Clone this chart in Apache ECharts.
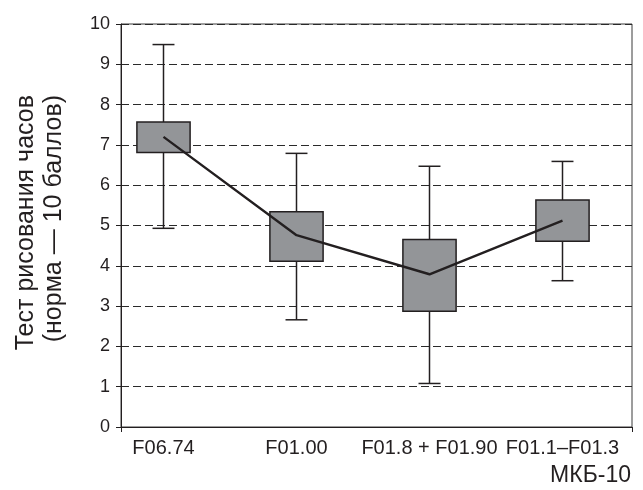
<!DOCTYPE html>
<html>
<head>
<meta charset="utf-8">
<script src="https://cdn.jsdelivr.net/npm/echarts@6/dist/echarts.min.js"></script>
<style>html,body{margin:0;padding:0;background:#fff;}#chart{width:643px;height:490px;}</style>
</head>
<body>
<div id="chart"></div>
<script>
var categories = ['F06.74', 'F01.00', 'F01.8 + F01.90', 'F01.1–F01.3'];
var whiskerLow = [4.93, 2.66, 1.08, 3.63];
var q1 = [6.81, 4.11, 2.87, 4.61];
var q3 = [7.57, 5.34, 4.65, 5.63];
var whiskerHigh = [9.49, 6.79, 6.47, 6.59];
var means = [7.20, 4.76, 3.79, 5.12];
var yTicks = [0, 1, 2, 3, 4, 5, 6, 7, 8, 9, 10];

var ink = '#231f20';
var chart = echarts.init(document.getElementById('chart'), null, {renderer: 'canvas'});

var boxData = categories.map(function (c, i) {
  return [i, whiskerLow[i], q1[i], q3[i], whiskerHigh[i]];
});

var option = {
  animation: false,
  backgroundColor: '#fff',
  grid: [
    {left: 121, right: 11, top: 24, bottom: 63, show: true, borderColor: '#3a3a3a', borderWidth: 1, containLabel: false},
    {left: 97, right: 14, top: 24, bottom: 63, containLabel: false}
  ],
  xAxis: [
    {
      gridIndex: 0, type: 'category', data: [''], boundaryGap: true,
      axisLine: {show: true, lineStyle: {color: ink, width: 1}},
      axisTick: {show: true, length: 5, lineStyle: {color: ink}},
      axisLabel: {show: false}
    },
    {
      gridIndex: 1, type: 'category', data: categories, boundaryGap: true,
      axisLine: {show: false}, axisTick: {show: false},
      axisLabel: {show: true, color: ink, fontFamily: 'Liberation Sans', fontSize: 20, margin: 11, interval: 0}
    }
  ],
  yAxis: [
    {
      gridIndex: 0, type: 'value', min: 0, max: 10, interval: 1,
      axisLine: {show: true, lineStyle: {color: ink, width: 1}},
      axisTick: {show: true, length: 5, lineStyle: {color: ink}},
      axisLabel: {color: ink, fontFamily: 'Liberation Sans', fontSize: 18, margin: 11,
        formatter: function (v) { return yTicks.indexOf(v) >= 0 ? String(v) : ''; }},
      splitLine: {show: true, lineStyle: {color: '#2a2a2a', width: 1, type: [8, 4]}}
    },
    {
      gridIndex: 1, type: 'value', min: 0, max: 10, interval: 1, show: false,
      splitLine: {show: false}
    }
  ],
  graphic: [
    {
      type: 'text', x: 40, y: 95, rotation: Math.PI / 2,
      style: {
        text: 'Тест рисования часов\n(норма — 10 баллов)',
        font: '25px "Liberation Sans"', fill: ink,
        align: 'right', verticalAlign: 'middle', lineHeight: 28
      }
    },
    {
      type: 'text', x: 631, y: 487,
      style: {text: 'МКБ-10', font: '23px "Liberation Sans"', fill: ink, align: 'right', verticalAlign: 'bottom'}
    }
  ],
  series: [
    {
      type: 'custom', xAxisIndex: 1, yAxisIndex: 1, z: 3,
      data: boxData,
      encode: {x: 0, y: [1, 2, 3, 4]},
      renderItem: function (params, api) {
        var x = api.value(0);
        var lo = api.coord([x, api.value(1)]);
        var b1 = api.coord([x, api.value(2)]);
        var b3 = api.coord([x, api.value(3)]);
        var hi = api.coord([x, api.value(4)]);
        var band = api.size([1, 0])[0];
        var bw = band * 0.40;
        var cw = band * 0.165;
        var cx = lo[0];
        var ls = {stroke: ink, lineWidth: 1.5, fill: null};
        return {
          type: 'group',
          children: [
            {type: 'line', shape: {x1: cx, y1: hi[1], x2: cx, y2: lo[1]}, style: ls},
            {type: 'line', shape: {x1: cx - cw / 2, y1: hi[1], x2: cx + cw / 2, y2: hi[1]}, style: ls},
            {type: 'line', shape: {x1: cx - cw / 2, y1: lo[1], x2: cx + cw / 2, y2: lo[1]}, style: ls},
            {type: 'rect', shape: {x: cx - bw / 2, y: b3[1], width: bw, height: b1[1] - b3[1]},
              style: {fill: '#939598', stroke: ink, lineWidth: 1.5}}
          ]
        };
      }
    },
    {
      type: 'line', xAxisIndex: 1, yAxisIndex: 1, z: 5,
      data: means, symbol: 'none',
      lineStyle: {color: ink, width: 2.4}
    }
  ]
};
chart.setOption(option);
</script>
</body>
</html>
